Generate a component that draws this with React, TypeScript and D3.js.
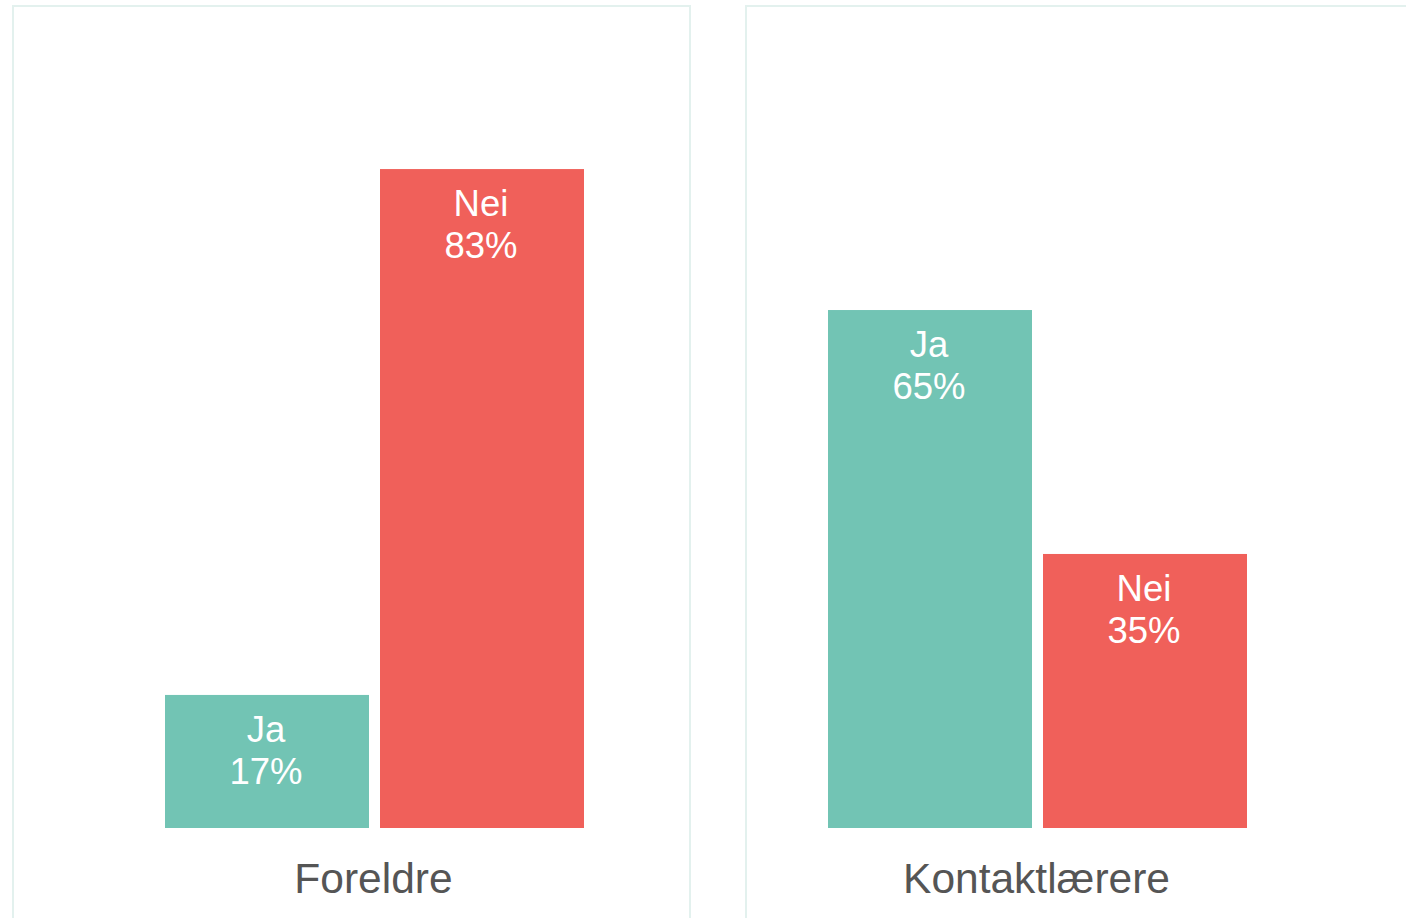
import React from "react";
import * as d3 from "d3";

const groups = ["Foreldre", "Kontaktlærere"];
const answers = ["Ja", "Nei"];
const foreldreValues = [16.8, 83.2];
const kontaktValues = [65.4, 34.6];
const colors = ["#72C4B4", "#F0605A"];

const W = 1406;
const H = 918;
const FONT = "Liberation Sans, Arial, sans-serif";

export default function App() {
  const y = d3.scaleLinear().domain([0, 100]).range([828, 36]);
  const panels = [
    { name: groups[0], values: foreldreValues, box: [13, 677], bars: [165, 584] },
    { name: groups[1], values: kontaktValues, box: [746, 700], bars: [828, 1247] },
  ];
  return (
    <svg width={W} height={H} style={{ position: "absolute", left: 0, top: 0 }}>
      <rect width={W} height={H} fill="#fff" />
      {panels.map((p) => {
        const x = d3.scaleBand<string>().domain(answers).range(p.bars as [number, number]).paddingInner(11 / 215).paddingOuter(0);
        const cx = (p.bars[0] + p.bars[1]) / 2;
        return (
          <g key={p.name}>
            <rect x={p.box[0]} y={6} width={p.box[1]} height={H + 20} fill="none" stroke="#E3F1EE" strokeWidth={2} />
            {answers.map((a, i) => {
              const v = p.values[i];
              const bx = x(a)!;
              const top = y(v);
              const tx = bx + x.bandwidth() / 2 - 1;
              return (
                <g key={a}>
                  <rect x={bx} y={top} width={x.bandwidth()} height={y(0) - top} fill={colors[i]} />
                  <text x={tx} y={top + 47} textAnchor="middle" fill="#fff" fontFamily={FONT} fontSize={36.5}>{a}</text>
                  <text x={tx} y={top + 89} textAnchor="middle" fill="#fff" fontFamily={FONT} fontSize={36.5}>{Math.round(v)}%</text>
                </g>
              );
            })}
            <text x={cx - 1} y={893} textAnchor="middle" fill="#555" fontFamily={FONT} fontSize={42.5}>{p.name}</text>
          </g>
        );
      })}
    </svg>
  );
}
